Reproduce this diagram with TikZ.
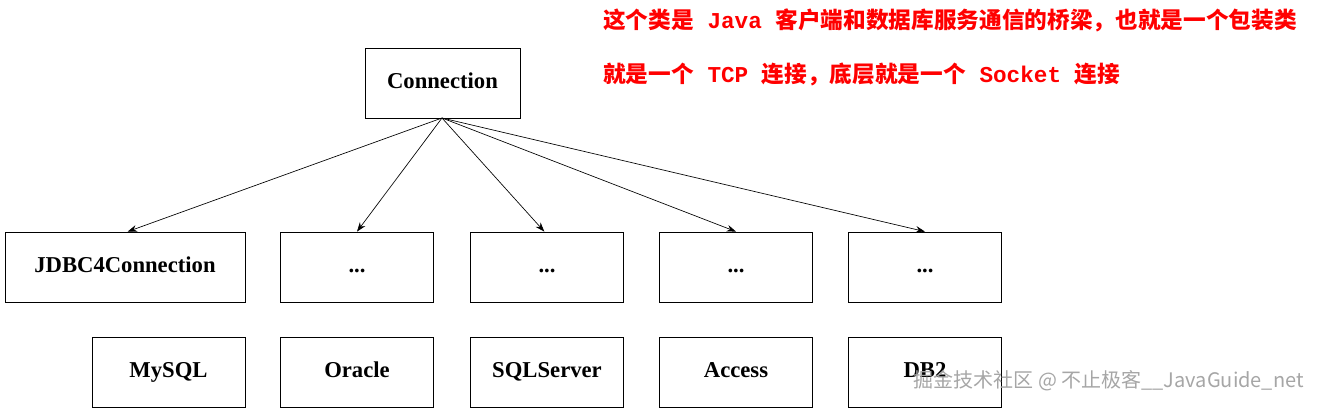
\documentclass[tikz,border=0pt]{standalone}
\usepackage{fontspec}
\setmainfont{Liberation Serif}
\newfontfamily\cjk{Noto Sans CJK SC}
\newfontfamily\monocjk{Liberation Mono}
\usetikzlibrary{arrows.meta}
\newcommand{\gap}{\hspace{0.6em}}
\begin{document}
\begin{tikzpicture}[x=0.75pt,y=-0.75pt,
  box/.style={draw,line width=0.6pt,minimum width=153*0.75pt,minimum height=70*0.75pt,font=\fontsize{17}{17}\selectfont\bfseries,inner sep=0pt,text height=11pt,text depth=2pt},
  arr/.style={-{Stealth[length=7pt,width=5pt]},line width=0.5pt},
  red/.style={text=red,font=\fontsize{17}{17}\selectfont\bfseries,anchor=west,inner sep=0pt}]
\useasboundingbox (0,0) rectangle (1318,409);
\node[box,minimum width=155*0.75pt] (conn) at (442.5,83) {Connection};
\node[box,minimum width=240*0.75pt] (j) at (125,267) {JDBC4Connection};
\node[box] (d1) at (357,267) {...};
\node[box] (d2) at (547,267) {...};
\node[box] (d3) at (736,267) {...};
\node[box] (d4) at (925,267) {...};
\node[box] (m) at (168.5,372) {MySQL};
\node[box] (o) at (357,372) {Oracle};
\node[box] (s) at (547,372) {SQLServer};
\node[box] (a) at (736,372) {Access};
\node[box] (b) at (925,372) {DB2};
\coordinate (c0) at (442,118);
\draw[arr] (c0) -- ([xshift=2pt]j.north);
\draw[arr] (c0) -- (d1.north);
\draw[arr] (c0) -- ([xshift=-2pt]d2.north);
\draw[arr] (c0) -- (d3.north);
\draw[arr] (c0) -- (d4.north);
\node[red] (t1) at (603,20) {{\cjk 这个类是}\gap{\monocjk Java}\gap{\cjk 客户端和数据库服务通信的桥梁，也就是一个包装类}};
\node[red] (t2) at (603,74) {{\cjk 就是一个}\gap{\monocjk TCP}\gap{\cjk 连接，底层就是一个}\gap{\monocjk Socket}\gap{\cjk 连接}};
\node[anchor=east,text=gray!70,font=\cjk\fontsize{15}{15}\selectfont,inner sep=0pt] (wm) at (1304,381) {掘金技术社区 @ 不止极客\_\_JavaGuide\_net};
\end{tikzpicture}
\end{document}
